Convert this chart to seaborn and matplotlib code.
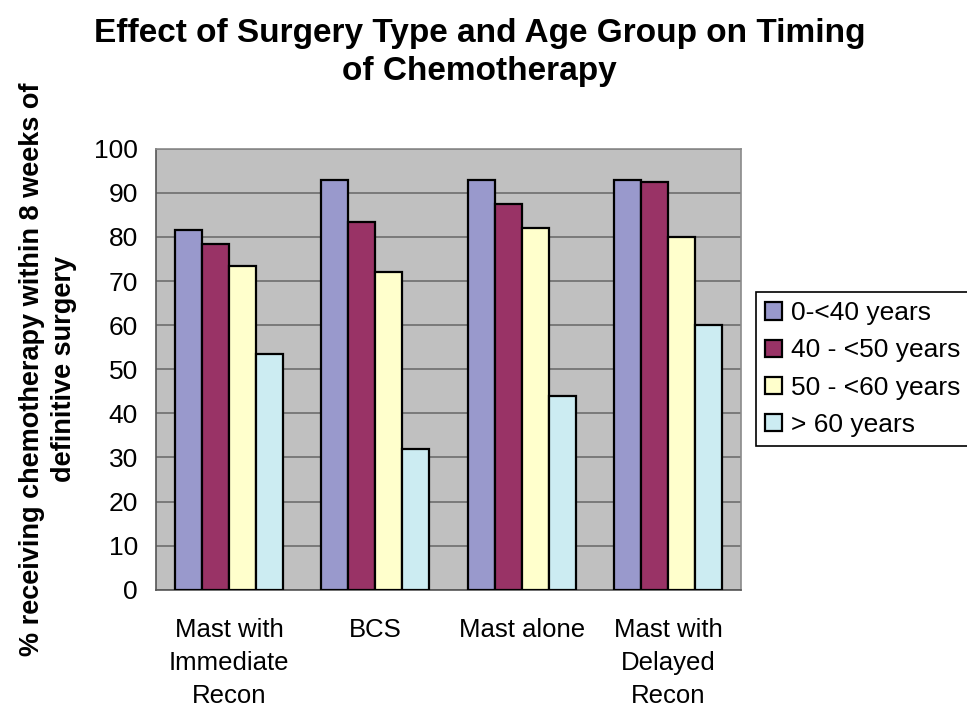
import pandas as pd
import matplotlib
matplotlib.use('Agg')
import matplotlib.pyplot as plt
import seaborn as sns
import numpy as np

# Chart data
surgeryTypes = ['Mast with\nImmediate\nRecon', 'BCS', 'Mast alone', 'Mast with\nDelayed\nRecon']
ageGroups = ['0-<40 years', '40 - <50 years', '50 - <60 years', '> 60 years']
age0to40 = [81.5, 93.0, 93.0, 93.0]
age40to50 = [78.5, 83.5, 87.5, 92.5]
age50to60 = [73.5, 72.0, 82.0, 80.0]
age60plus = [53.5, 32.0, 44.0, 60.0]
yTicks = [0, 10, 20, 30, 40, 50, 60, 70, 80, 90, 100]

seriesValues = [age0to40, age40to50, age50to60, age60plus]
rows = []
for ageGroup, values in zip(ageGroups, seriesValues):
    for surgery, value in zip(surgeryTypes, values):
        rows.append({'Surgery': surgery, 'Age Group': ageGroup, 'Percent': value})
df = pd.DataFrame(rows)

sns.set_style("white")
plt.rcParams['font.family'] = ['Liberation Sans', 'DejaVu Sans']
plt.rcParams['text.color'] = 'black'
plt.rcParams['xtick.color'] = 'black'
plt.rcParams['ytick.color'] = 'black'
plt.rcParams['axes.labelcolor'] = 'black'

colorPalette = ['#9999CC', '#993366', '#FFFFCC', '#CCECF2']

fig = plt.figure(figsize=(9.67, 7.10), dpi=100)
ax = fig.add_axes([0.1613, 0.1694, 0.605, 0.6211])
ax.set_facecolor('#C0C0C0')

sns.barplot(
    data=df, x='Surgery', y='Percent', hue='Age Group',
    order=surgeryTypes, hue_order=ageGroups,
    palette=colorPalette, width=0.74, saturation=1,
    edgecolor='black', linewidth=1.6, ax=ax, zorder=3
)

# Axis styling
ax.set_ylim(0, 100)
ax.set_xlim(-0.5, 3.5)
ax.set_yticks(yTicks)
ax.set_yticklabels([str(t) for t in yTicks], fontsize=19)
ax.yaxis.grid(True, color='#6E6E6E', linewidth=1.2, zorder=1)
ax.set_axisbelow(True)
ax.tick_params(axis='y', length=6, width=1, color='#555555', pad=7)

ax.set_xticks(range(len(surgeryTypes)))
ax.set_xticklabels(surgeryTypes, fontsize=18.5, linespacing=1.48, va='top')
ax.tick_params(axis='x', which='major', length=0, pad=20)
ax.set_xticks(np.arange(-0.5, len(surgeryTypes)), minor=True)
ax.tick_params(axis='x', which='minor', length=6, width=1, color='#555555')

for side in ['top', 'right']:
    ax.spines[side].set_color('#8A8A8A')
    ax.spines[side].set_linewidth(1.2)
for side in ['left', 'bottom']:
    ax.spines[side].set_color('#555555')
    ax.spines[side].set_linewidth(1.2)

ax.set_xlabel('')
ax.set_ylabel('% receiving chemotherapy within 8 weeks of\ndefinitive surgery',
              fontsize=19.5, fontweight='bold', labelpad=12, linespacing=1.3)

# Title
fig.text(0.496, 0.975, 'Effect of Surgery Type and Age Group on Timing\nof Chemotherapy',
         ha='center', va='top', fontsize=24, fontweight='bold', linespacing=1.3)

# Legend
handles, labels = ax.get_legend_handles_labels()
ax.legend(handles, labels, loc='upper left', bbox_to_anchor=(0.782, 0.5887),
          bbox_transform=fig.transFigure, fontsize=19, frameon=True,
          fancybox=False, edgecolor='black', framealpha=1, borderaxespad=0,
          handlelength=0.62, handleheight=0.62, handletextpad=0.35,
          labelspacing=0.5, borderpad=0.35)
ax.get_legend().get_frame().set_linewidth(1.2)

fig.savefig('out.png', dpi=100)
plt.close(fig)
